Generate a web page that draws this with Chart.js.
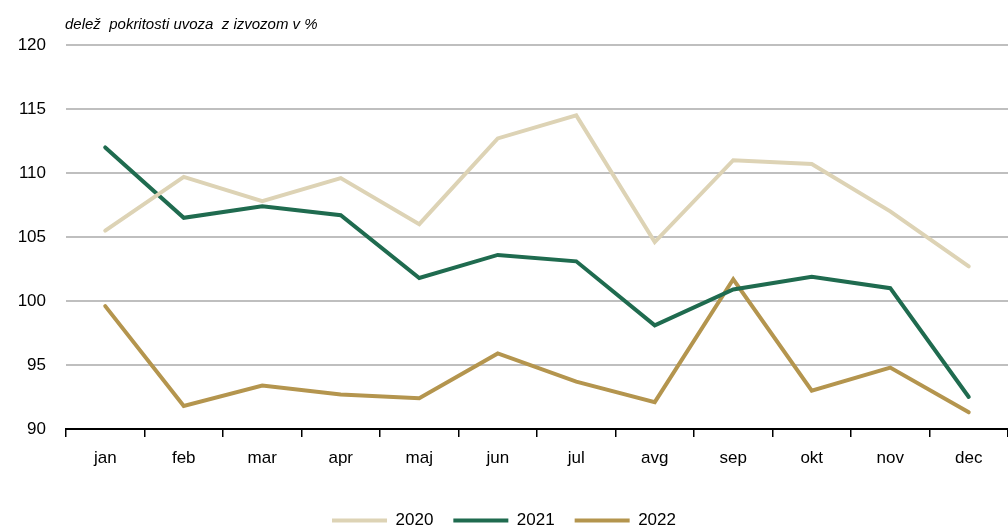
<!DOCTYPE html>
<html>
<head>
<meta charset="utf-8">
<script src="https://cdn.jsdelivr.net/npm/chart.js@4"></script>
<style>
  html, body { margin: 0; padding: 0; background: #fff; }
  #wrap { width: 1008px; height: 529px; position: relative; }
</style>
</head>
<body>
<div id="wrap"><canvas id="chart"></canvas></div>
<script>
var months = ["jan", "feb", "mar", "apr", "maj", "jun", "jul", "avg", "sep", "okt", "nov", "dec"];
var yearLabels = ["2020", "2021", "2022"];
var values2020 = [105.5, 109.7, 107.8, 109.6, 106.0, 112.7, 114.5, 104.6, 111.0, 110.7, 107.0, 102.7];
var values2021 = [112.0, 106.5, 107.4, 106.7, 101.8, 103.6, 103.1, 98.1, 100.9, 101.9, 101.0, 92.5];
var values2022 = [99.6, 91.8, 93.4, 92.7, 92.4, 95.9, 93.7, 92.1, 101.7, 93.0, 94.8, 91.3];
var colors = ["#ddd3b5", "#1f6b4f", "#b4954e"];

var titleText = "delež  pokritosti uvoza  z izvozom v %";
var fontFam = "'Liberation Sans', Arial, sans-serif";

// draws the small italic caption above the plot, aligned to the plot's left edge
var captionPlugin = {
  id: 'caption',
  afterDraw: function(chart) {
    var ctx = chart.ctx;
    ctx.save();
    ctx.font = "italic 15px " + fontFam;
    ctx.fillStyle = "#000";
    ctx.textBaseline = "middle";
    ctx.fillText(titleText, chart.chartArea.left - 1, 25);
    ctx.restore();
  }
};

var series = [values2020, values2021, values2022];
var datasets = [];
for (var i = 0; i < series.length; i++) {
  datasets.push({
    label: yearLabels[i],
    data: series[i],
    borderColor: colors[i],
    backgroundColor: colors[i],
    borderWidth: 4,
    borderCapStyle: 'round',
    borderJoinStyle: 'miter',
    pointRadius: 0,
    pointHoverRadius: 0,
    tension: 0,
    fill: false
  });
}

Chart.defaults.font.family = fontFam;
Chart.defaults.color = "#000";

var chart = new Chart(document.getElementById("chart"), {
  type: 'line',
  data: {
    labels: months,
    datasets: datasets
  },
  plugins: [captionPlugin],
  options: {
    responsive: true,
    maintainAspectRatio: false,
    animation: false,
    layout: {
      padding: { top: 45, right: 0, left: 0, bottom: -10 }
    },
    plugins: {
      legend: {
        display: true,
        position: 'bottom',
        labels: {
          usePointStyle: true,
          pointStyle: 'line',
          pointStyleWidth: 55,
          padding: 20,
          font: { size: 17 },
          color: "#000"
        }
      },
      tooltip: { enabled: false },
      title: { display: false }
    },
    scales: {
      x: {
        offset: true,
        afterFit: function(scale) { scale.height = 63; },
        grid: {
          offset: true,
          drawOnChartArea: false,
          drawTicks: true,
          tickLength: 8,
          color: "#000",
          lineWidth: 1.5
        },
        border: { display: true, color: "#000", width: 2 },
        ticks: {
          font: { size: 17 },
          padding: 11,
          color: "#000"
        }
      },
      y: {
        min: 90,
        max: 120,
        afterFit: function(scale) { scale.width = 66; },
        ticks: {
          stepSize: 5,
          font: { size: 17 },
          padding: 20,
          color: "#000"
        },
        grid: {
          color: "#bfbfbf",
          lineWidth: 2,
          drawTicks: false
        },
        border: { display: false }
      }
    }
  }
});
</script>
</body>
</html>
